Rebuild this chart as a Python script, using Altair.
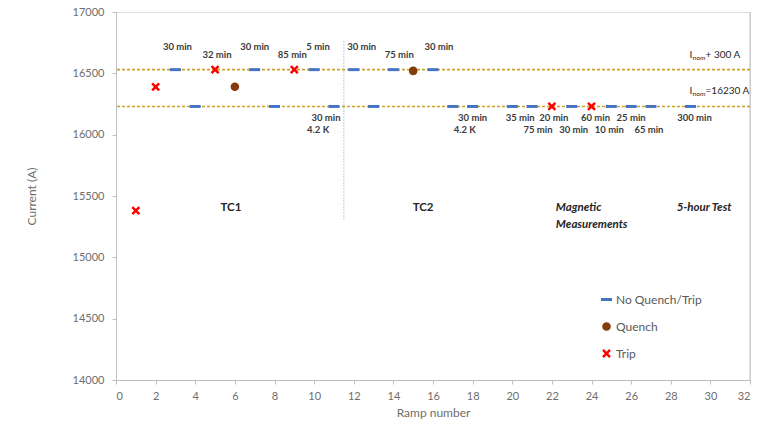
import altair as alt
import pandas as pd

# Ramp results
ramp = [1, 2, 3, 4, 5, 6, 7, 8, 9, 10, 11, 12, 13, 14, 15, 16, 17, 18,
        20, 21, 22, 23, 24, 25, 26, 27, 29]
current = [15380, 16390, 16530, 16230, 16530, 16390, 16530, 16230, 16530,
           16530, 16230, 16530, 16230, 16530, 16520, 16530, 16230, 16230,
           16230, 16230, 16230, 16230, 16230, 16230, 16230, 16230, 16230]
outcome = ["Trip", "Trip", "No Quench/Trip", "No Quench/Trip", "Trip", "Quench",
           "No Quench/Trip", "No Quench/Trip", "Trip", "No Quench/Trip",
           "No Quench/Trip", "No Quench/Trip", "No Quench/Trip", "No Quench/Trip",
           "Quench", "No Quench/Trip", "No Quench/Trip", "No Quench/Trip",
           "No Quench/Trip", "No Quench/Trip", "Trip", "No Quench/Trip", "Trip",
           "No Quench/Trip", "No Quench/Trip", "No Quench/Trip", "No Quench/Trip"]

categories = ["No Quench/Trip", "Quench", "Trip"]
cat_colors = ["#4472C4", "#843C0C", "#FF0000"]
# symbol paths in the unit box
dash_path = "M-1,-0.27H1V0.27H-1Z"
circle_path = "M-0.78,0A0.78,0.78 0 1,0 0.78,0A0.78,0.78 0 1,0 -0.78,0Z"
x_path = ("M-0.48,-0.8L0.8,0.48L0.48,0.8L-0.8,-0.48Z"
          "M-0.8,0.48L0.48,-0.8L0.8,-0.48L-0.48,0.8Z")

# Reference current levels
i_nom = 16230
i_high = 16530

# Hold-time annotations
note_text = ["30 min", "32 min", "30 min", "85 min", "5 min", "30 min", "75 min", "30 min",
             "30 min", "4.2 K", "30 min", "4.2 K", "35 min", "75 min", "20 min", "30 min",
             "60 min", "10 min", "25 min", "65 min", "300 min"]
note_x = [3.1, 5.1, 7.0, 8.9, 10.2, 12.4, 14.3, 16.3,
          10.6, 10.2, 18.0, 17.6, 20.4, 21.3, 22.1, 23.1,
          24.2, 24.9, 26.0, 26.9, 29.2]
note_y = [16715, 16650, 16715, 16650, 16715, 16715, 16650, 16715,
          16135, 16035, 16135, 16035, 16135, 16035, 16135, 16035,
          16135, 16035, 16135, 16035, 16135]

# Campaign labels
phase_text = ["TC1", "TC2"]
phase_x = [5.8, 15.5]
phase_y = [15400, 15400]
phase_it_text = ["Magnetic", "Measurements", "5-hour Test"]
phase_it_x = [22.2, 22.2, 28.3]
phase_it_y = [15400, 15260, 15400]

x_ticks = list(range(0, 33, 2))
y_ticks = list(range(14000, 17001, 500))

W, H = 634, 368

df = pd.DataFrame({"ramp": ramp, "current": current, "outcome": outcome})
notes = pd.DataFrame({"t": note_text, "x": note_x, "y": note_y})
phases = pd.DataFrame({"t": phase_text, "x": phase_x, "y": phase_y})
phases_it = pd.DataFrame({"t": phase_it_text, "x": phase_it_x, "y": phase_it_y})
levels = pd.DataFrame({"y": [i_high, i_nom]})

xscale = alt.Scale(domain=[0, 32], nice=False, zero=False)
yscale = alt.Scale(domain=[14000, 17000], nice=False, zero=False)
gray = "#6E6E6E"

x_axis = alt.Axis(values=x_ticks, title="Ramp number", grid=False,
                  labelOverlap=False, format="d",
                  labelFont="Lato", labelFontSize=11, labelColor=gray, labelPadding=6,
                  titleFont="Lato", titleFontSize=12, titleColor=gray, titleFontWeight="normal",
                  titlePadding=6, domainColor="#BFBFBF", tickColor="#BFBFBF", tickSize=4)
y_axis = alt.Axis(values=y_ticks, title="Current (A)", grid=False,
                  labelOverlap=False, format="d",
                  labelFont="Lato", labelFontSize=11, labelColor=gray, labelPadding=8,
                  titleFont="Lato", titleFontSize=12, titleColor=gray, titleFontWeight="normal",
                  titlePadding=34, domainColor="#BFBFBF", tickColor="#BFBFBF", tickSize=4)


def xenc(field):
    return alt.X(field, scale=xscale, axis=x_axis, title="Ramp number")


def yenc(field):
    return alt.Y(field, scale=yscale, axis=y_axis, title="Current (A)")


points = alt.Chart(df).mark_point(filled=True, opacity=1, size=121).encode(
    x=xenc("ramp:Q"),
    y=yenc("current:Q"),
    color=alt.Color("outcome:N", scale=alt.Scale(domain=categories, range=cat_colors),
                    legend=alt.Legend(title=None, orient="none", legendX=484, legendY=281,
                                      labelFont="Lato", labelFontSize=12, labelColor="#595959",
                                      symbolSize=121, rowPadding=14, labelOffset=3)),
    shape=alt.Shape("outcome:N", scale=alt.Scale(domain=categories,
                                                 range=[dash_path, circle_path, x_path])),
)

level_lines = alt.Chart(levels).mark_rule(color="#C9A227", strokeWidth=1.6,
                                          strokeDash=[3, 2]).encode(y=yenc("y:Q"))

divider = alt.Chart(pd.DataFrame({"x": [11.5], "y": [16760], "y2": [15300]})).mark_rule(
    color="#8EA9DB", strokeWidth=1.2, strokeDash=[1, 2]
).encode(x=xenc("x:Q"), y=yenc("y:Q"), y2="y2:Q")

right_border = alt.Chart(pd.DataFrame({"x": [32]})).mark_rule(
    color="#BFBFBF", strokeWidth=1
).encode(x=xenc("x:Q"))

note_marks = alt.Chart(notes).mark_text(
    font="Lato", fontWeight="bold", fontSize=9.5, color="#3A3A3A"
).encode(x=xenc("x:Q"), y=yenc("y:Q"), text="t:N")

phase_marks = alt.Chart(phases).mark_text(
    font="Lato", fontWeight="bold", fontSize=11.5, color="#262626"
).encode(x=xenc("x:Q"), y=yenc("y:Q"), text="t:N")

phase_it_marks = alt.Chart(phases_it).mark_text(
    font="Lato", fontWeight="bold", fontStyle="italic", fontSize=11.5, color="#262626",
    align="left"
).encode(x=xenc("x:Q"), y=yenc("y:Q"), text="t:N")

# Level labels: I with subscript "nom"
lvl = pd.DataFrame({"x": [28.95, 28.95], "y": [16650, 16355],
                    "main": ["+ 300 A", "=16230 A"]})
lvl_i = alt.Chart(lvl).mark_text(font="Lato", fontSize=10, color="#262626", align="left").encode(
    x=xenc("x:Q"), y=yenc("y:Q"), text=alt.value("I"))
lvl_sub = alt.Chart(lvl).mark_text(font="Lato", fontSize=6.5, color="#262626", align="left",
                                   dx=3, dy=3).encode(
    x=xenc("x:Q"), y=yenc("y:Q"), text=alt.value("nom"))
lvl_main = alt.Chart(lvl).mark_text(font="Lato", fontSize=10, color="#262626", align="left",
                                    dx=16).encode(
    x=xenc("x:Q"), y=yenc("y:Q"), text="main:N")

chart = alt.layer(
    right_border, level_lines, divider, note_marks, phase_marks, phase_it_marks,
    lvl_i, lvl_sub, lvl_main, points
).properties(
    width=W, height=H,
    autosize=alt.AutoSizeParams(type="none"),
    padding={"left": 116, "top": 12, "right": 17, "bottom": 49},
).configure_view(stroke=None).configure(background="white")

chart.save("out.html", embed_options={"renderer": "svg", "actions": False})
